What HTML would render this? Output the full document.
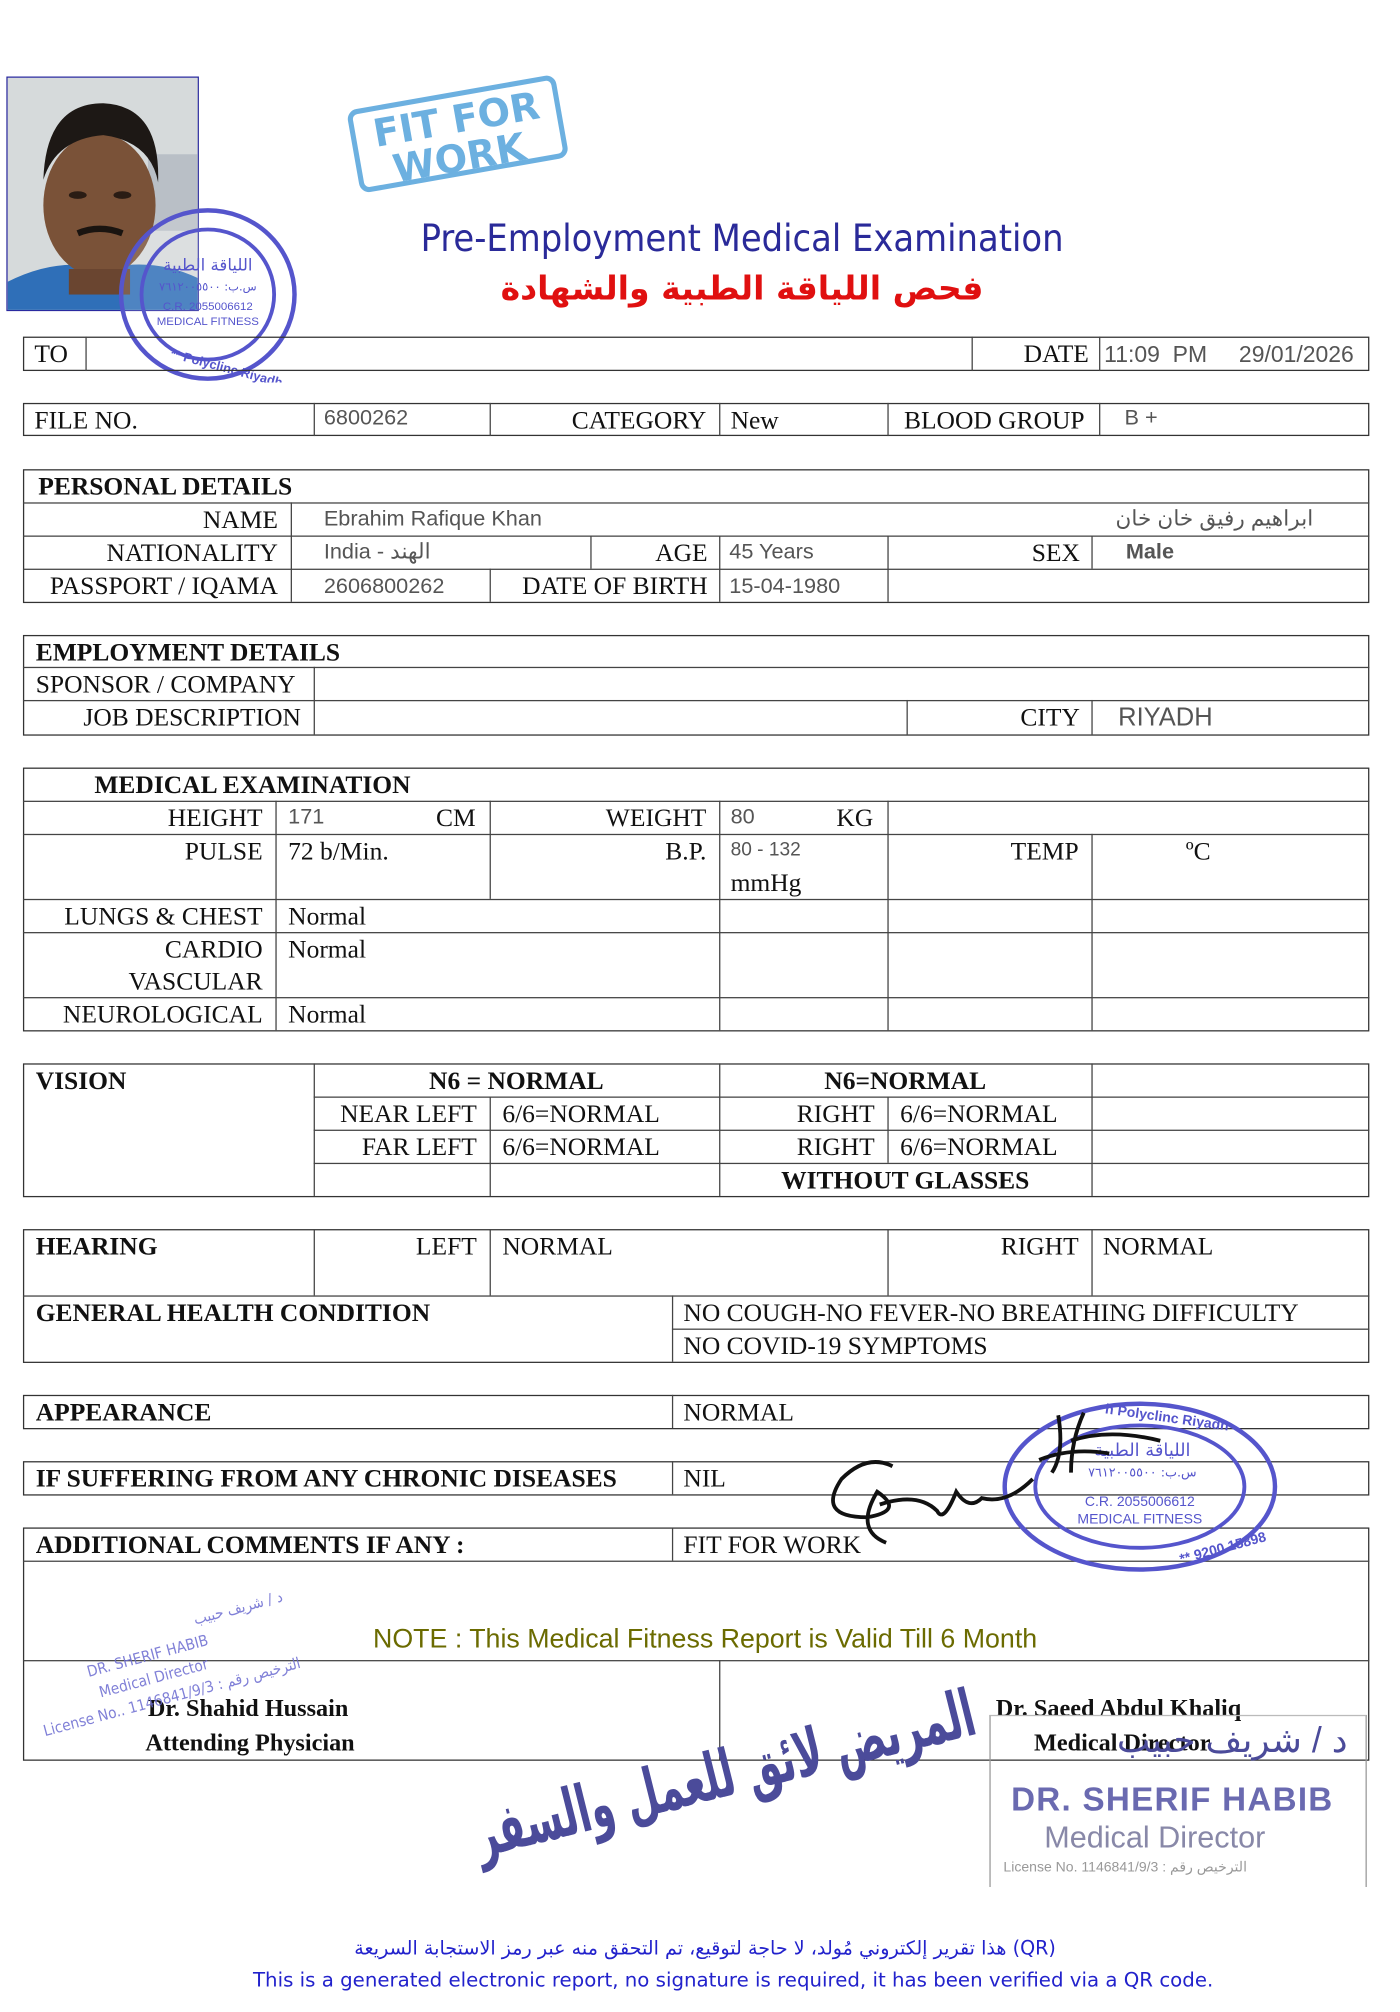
<!DOCTYPE html>
<html><head><meta charset="utf-8"><style>
html,body{margin:0;padding:0;background:#fff;}
body{width:1400px;height:2008px;overflow:hidden;position:relative;}
#w{position:absolute;left:0;top:0;width:1100px;height:1578px;transform:scale(1.275);transform-origin:0 0;}
.b{position:absolute;border:1.6px solid #333;box-sizing:border-box;}
.h{position:absolute;height:0;border-top:1.4px solid #444;}
.v{position:absolute;width:0;border-left:1.4px solid #444;}
.t{position:absolute;font-family:"Liberation Serif",serif;font-size:20px;line-height:26px;color:#111;white-space:nowrap;}
.r{text-align:right;}
.c{text-align:center;}
.g{font-family:"Liberation Sans","Noto Sans CJK SC",sans-serif;font-size:17px;color:#555;}
.bd{font-weight:bold;}
</style></head><body><div id="w">

<!-- photo -->
<div style="position:absolute;left:5px;top:60px;width:151px;height:184px;border:1.2px solid #2a2aa0;box-sizing:border-box;overflow:hidden;background:#d9dcdb;">
<svg width="151" height="184" viewBox="0 0 151 184">
<rect x="0" y="0" width="151" height="184" fill="#d6dadb"/>
<rect x="110" y="60" width="41" height="60" fill="#b9bfc6"/>
<path d="M0 160 Q40 140 75 150 Q115 140 151 158 L151 184 L0 184Z" fill="#2f6fb8"/>
<ellipse cx="72" cy="100" rx="44" ry="56" fill="#7a5238"/>
<path d="M28 80 Q30 20 75 20 Q120 22 118 82 Q112 50 75 45 Q38 48 28 80Z" fill="#1d1815"/>
<rect x="48" y="150" width="48" height="20" fill="#6a4530"/>
<path d="M55 122 Q72 115 90 122" stroke="#1a1410" stroke-width="5" fill="none"/>
<ellipse cx="55" cy="92" rx="7" ry="3" fill="#2a1c14"/><ellipse cx="90" cy="92" rx="7" ry="3" fill="#2a1c14"/>
</svg></div>

<!-- round stamp top-left -->
<svg style="position:absolute;left:92px;top:162px" width="142" height="138" viewBox="0 0 142 138">
<ellipse cx="71" cy="69" rx="68" ry="66" fill="rgba(255,255,255,0.15)" stroke="#5555cc" stroke-width="3.5"/>
<ellipse cx="71" cy="69" rx="52" ry="51" fill="none" stroke="#5555cc" stroke-width="3"/>
<text x="71" y="50" font-family="DejaVu Sans,sans-serif" font-size="13" fill="#5555cc" text-anchor="middle">اللياقة الطبية</text>
<text x="71" y="66" font-family="DejaVu Sans,sans-serif" font-size="9" fill="#5555cc" text-anchor="middle">س.ب: ٧٦١٢٠٠٥٥٠٠</text>
<text x="71" y="81" font-family="Liberation Sans,sans-serif" font-size="9" fill="#5555cc" text-anchor="middle">C.R. 2055006612</text>
<text x="71" y="93" font-family="Liberation Sans,sans-serif" font-size="9" fill="#5555cc" text-anchor="middle">MEDICAL FITNESS</text>
<text x="40" y="126" font-family="Liberation Sans,sans-serif" font-size="10" font-weight="bold" fill="#5555cc" transform="rotate(15 70 126)">** Polyclinc Riyadh</text>
</svg>

<!-- FIT FOR WORK stamp -->
<div style="position:absolute;left:276px;top:72px;width:166px;height:66px;border:4px solid #6cb0e0;border-radius:8px;transform:rotate(-10deg);color:#6cb0e0;font-family:'DejaVu Sans',sans-serif;font-weight:bold;font-size:30px;line-height:30px;padding:4px 0 0 14px;box-sizing:border-box;">FIT FOR<br>&nbsp;WORK</div>

<div class="t c" style="left:282px;width:600px;top:168px;font-family:'DejaVu Sans Condensed','DejaVu Sans',sans-serif;font-size:29.5px;line-height:38px;color:#2a2a99;">Pre-Employment Medical Examination</div>
<div class="t c" style="left:282px;width:600px;top:205px;font-family:'DejaVu Sans',sans-serif;font-size:26px;line-height:44px;color:#e01010;font-weight:bold;" dir="rtl">فحص اللياقة الطبية والشهادة</div>

<!-- T1 -->
<div class="b" style="left:18px;top:264px;width:1056px;height:27px"></div>
<div class="v" style="left:67px;top:264px;height:27px"></div>
<div class="v" style="left:762px;top:264px;height:27px"></div>
<div class="v" style="left:862px;top:264px;height:27px"></div>
<div class="t" style="left:27px;top:265px">TO</div>
<div class="t r" style="left:762px;width:92px;top:265px">DATE</div>
<div class="t g" style="left:866px;top:265px;font-size:18px">11:09&nbsp; PM&nbsp;&nbsp;&nbsp;&nbsp; 29/01/2026</div>

<!-- T2 -->
<div class="b" style="left:18px;top:316px;width:1056px;height:26px"></div>
<div class="v" style="left:246px;top:316px;height:26px"></div>
<div class="v" style="left:384px;top:316px;height:26px"></div>
<div class="v" style="left:564px;top:316px;height:26px"></div>
<div class="v" style="left:696px;top:316px;height:26px"></div>
<div class="v" style="left:862px;top:316px;height:26px"></div>
<div class="t" style="left:27px;top:317px">FILE NO.</div>
<div class="t g" style="left:254px;top:315px">6800262</div>
<div class="t r" style="left:384px;width:170px;top:317px">CATEGORY</div>
<div class="t" style="left:573px;top:317px">New</div>
<div class="t" style="left:709px;top:317px">BLOOD GROUP</div>
<div class="t g" style="left:882px;top:315px">B +</div>

<!-- T3 -->
<div class="b" style="left:18px;top:368px;width:1056px;height:105px"></div>
<div class="h" style="left:18px;top:394px;width:1056px"></div>
<div class="h" style="left:18px;top:420px;width:1056px"></div>
<div class="h" style="left:18px;top:446px;width:1056px"></div>
<div class="v" style="left:228px;top:394px;height:78px"></div>
<div class="v" style="left:463px;top:420px;height:26px"></div>
<div class="v" style="left:564px;top:420px;height:52px"></div>
<div class="v" style="left:696px;top:420px;height:52px"></div>
<div class="v" style="left:856px;top:420px;height:26px"></div>
<div class="v" style="left:384px;top:446px;height:26px"></div>
<div class="t bd" style="left:30px;top:369px">PERSONAL DETAILS</div>
<div class="t r" style="left:18px;width:200px;top:395px">NAME</div>
<div class="t g" style="left:254px;top:394px">Ebrahim Rafique Khan</div>
<div class="t g" style="left:880px;top:394px;width:150px;text-align:right" dir="rtl">ابراهيم رفيق خان خان</div>
<div class="t r" style="left:18px;width:200px;top:421px">NATIONALITY</div>
<div class="t g" style="left:254px;top:420px">India - الهند</div>
<div class="t r" style="left:463px;width:92px;top:421px">AGE</div>
<div class="t g" style="left:572px;top:420px">45 Years</div>
<div class="t r" style="left:696px;width:151px;top:421px">SEX</div>
<div class="t g bd" style="left:883px;top:420px">Male</div>
<div class="t r" style="left:18px;width:200px;top:447px">PASSPORT / IQAMA</div>
<div class="t g" style="left:254px;top:447px">2606800262</div>
<div class="t r" style="left:384px;width:171px;top:447px">DATE OF BIRTH</div>
<div class="t g" style="left:572px;top:447px">15-04-1980</div>

<!-- T4 -->
<div class="b" style="left:18px;top:498px;width:1056px;height:79px"></div>
<div class="h" style="left:18px;top:523px;width:1056px"></div>
<div class="h" style="left:18px;top:549px;width:1056px"></div>
<div class="v" style="left:246px;top:523px;height:53px"></div>
<div class="v" style="left:711px;top:549px;height:27px"></div>
<div class="v" style="left:856px;top:549px;height:27px"></div>
<div class="t bd" style="left:28px;top:499px">EMPLOYMENT DETAILS</div>
<div class="t" style="left:28px;top:524px">SPONSOR / COMPANY</div>
<div class="t r" style="left:18px;width:218px;top:550px">JOB DESCRIPTION</div>
<div class="t r" style="left:711px;width:136px;top:550px">CITY</div>
<div class="t g" style="left:877px;top:550px;font-size:20px">RIYADH</div>

<!-- T5 -->
<div class="b" style="left:18px;top:602px;width:1056px;height:207px"></div>
<div class="h" style="left:18px;top:628px;width:1056px"></div>
<div class="h" style="left:18px;top:654px;width:1056px"></div>
<div class="h" style="left:18px;top:705px;width:1056px"></div>
<div class="h" style="left:18px;top:731px;width:1056px"></div>
<div class="h" style="left:18px;top:782px;width:1056px"></div>
<div class="v" style="left:216px;top:628px;height:180px"></div>
<div class="v" style="left:384px;top:628px;height:77px"></div>
<div class="v" style="left:564px;top:628px;height:180px"></div>
<div class="v" style="left:696px;top:628px;height:180px"></div>
<div class="v" style="left:856px;top:654px;height:154px"></div>
<div class="t bd" style="left:74px;top:603px">MEDICAL EXAMINATION</div>
<div class="t r" style="left:18px;width:188px;top:629px">HEIGHT</div>
<div class="t g" style="left:226px;top:628px">171</div>
<div class="t" style="left:342px;top:629px">CM</div>
<div class="t r" style="left:384px;width:170px;top:629px">WEIGHT</div>
<div class="t g" style="left:573px;top:628px">80</div>
<div class="t" style="left:656px;top:629px">KG</div>
<div class="t r" style="left:18px;width:188px;top:655px">PULSE</div>
<div class="t" style="left:226px;top:655px">72 b/Min.</div>
<div class="t r" style="left:384px;width:170px;top:655px">B.P.</div>
<div class="t g" style="left:573px;top:654px;font-size:15px">80 - 132</div>
<div class="t" style="left:573px;top:680px">mmHg</div>
<div class="t r" style="left:696px;width:150px;top:655px">TEMP</div>
<div class="t" style="left:930px;top:655px">ºC</div>
<div class="t r" style="left:18px;width:188px;top:706px">LUNGS &amp; CHEST</div>
<div class="t" style="left:226px;top:706px">Normal</div>
<div class="t r" style="left:18px;width:188px;top:732px">CARDIO</div>
<div class="t r" style="left:18px;width:188px;top:757px">VASCULAR</div>
<div class="t" style="left:226px;top:732px">Normal</div>
<div class="t r" style="left:18px;width:188px;top:783px">NEUROLOGICAL</div>
<div class="t" style="left:226px;top:783px">Normal</div>

<!-- T6 -->
<div class="b" style="left:18px;top:834px;width:1056px;height:105px"></div>
<div class="h" style="left:246px;top:860px;width:828px"></div>
<div class="h" style="left:246px;top:886px;width:828px"></div>
<div class="h" style="left:246px;top:912px;width:828px"></div>
<div class="v" style="left:246px;top:834px;height:104px"></div>
<div class="v" style="left:384px;top:860px;height:78px"></div>
<div class="v" style="left:564px;top:834px;height:104px"></div>
<div class="v" style="left:696px;top:860px;height:52px"></div>
<div class="v" style="left:856px;top:834px;height:104px"></div>
<div class="t bd" style="left:28px;top:835px">VISION</div>
<div class="t c bd" style="left:246px;width:318px;top:835px">N6 = NORMAL</div>
<div class="t c bd" style="left:564px;width:292px;top:835px">N6=NORMAL</div>
<div class="t r" style="left:246px;width:128px;top:861px">NEAR LEFT</div>
<div class="t" style="left:394px;top:861px">6/6=NORMAL</div>
<div class="t r" style="left:564px;width:122px;top:861px">RIGHT</div>
<div class="t" style="left:706px;top:861px">6/6=NORMAL</div>
<div class="t r" style="left:246px;width:128px;top:887px">FAR LEFT</div>
<div class="t" style="left:394px;top:887px">6/6=NORMAL</div>
<div class="t r" style="left:564px;width:122px;top:887px">RIGHT</div>
<div class="t" style="left:706px;top:887px">6/6=NORMAL</div>
<div class="t c bd" style="left:564px;width:292px;top:913px">WITHOUT GLASSES</div>

<!-- T7 -->
<div class="b" style="left:18px;top:964px;width:1056px;height:105px"></div>
<div class="h" style="left:18px;top:1016px;width:1056px"></div>
<div class="h" style="left:527px;top:1042px;width:547px"></div>
<div class="v" style="left:246px;top:964px;height:52px"></div>
<div class="v" style="left:384px;top:964px;height:52px"></div>
<div class="v" style="left:696px;top:964px;height:52px"></div>
<div class="v" style="left:856px;top:964px;height:52px"></div>
<div class="v" style="left:527px;top:1016px;height:52px"></div>
<div class="t bd" style="left:28px;top:965px">HEARING</div>
<div class="t r" style="left:246px;width:128px;top:965px">LEFT</div>
<div class="t" style="left:394px;top:965px">NORMAL</div>
<div class="t r" style="left:696px;width:150px;top:965px">RIGHT</div>
<div class="t" style="left:865px;top:965px">NORMAL</div>
<div class="t bd" style="left:28px;top:1017px">GENERAL HEALTH CONDITION</div>
<div class="t" style="left:536px;top:1017px">NO COUGH-NO FEVER-NO BREATHING DIFFICULTY</div>
<div class="t" style="left:536px;top:1043px">NO COVID-19 SYMPTOMS</div>

<!-- T8 -->
<div class="b" style="left:18px;top:1094px;width:1056px;height:27px"></div>
<div class="v" style="left:527px;top:1094px;height:26px"></div>
<div class="t bd" style="left:28px;top:1095px">APPEARANCE</div>
<div class="t" style="left:536px;top:1095px">NORMAL</div>

<!-- T9 -->
<div class="b" style="left:18px;top:1146px;width:1056px;height:27px"></div>
<div class="v" style="left:527px;top:1146px;height:26px"></div>
<div class="t bd" style="left:28px;top:1147px">IF SUFFERING FROM ANY CHRONIC DISEASES</div>
<div class="t" style="left:536px;top:1147px">NIL</div>

<!-- T10 -->
<div class="b" style="left:18px;top:1198px;width:1056px;height:183px"></div>
<div class="h" style="left:18px;top:1224px;width:1056px"></div>
<div class="h" style="left:18px;top:1302px;width:1056px"></div>
<div class="v" style="left:527px;top:1198px;height:26px"></div>
<div class="v" style="left:564px;top:1302px;height:78px"></div>
<div class="t bd" style="left:28px;top:1199px">ADDITIONAL COMMENTS IF ANY :</div>
<div class="t" style="left:536px;top:1199px">FIT FOR WORK</div>
<div class="t c" style="left:253px;width:600px;top:1273px;font-family:'Liberation Sans',sans-serif;font-size:21px;color:#6b6b00;">NOTE : This Medical Fitness Report is Valid Till 6 Month</div>
<div class="t bd" style="left:116px;top:1328px;font-size:19px">Dr. Shahid Hussain</div>
<div class="t bd" style="left:114px;top:1355px;font-size:19px">Attending Physician</div>
<div class="t bd" style="left:781px;top:1328px;font-size:19px">Dr. Saeed Abdul Khaliq</div>
<div class="t bd" style="left:811px;top:1355px;font-size:19px">Medical Director</div>

<!-- left rotated stamp text -->
<div style="position:absolute;left:18px;top:1297px;transform:rotate(-15deg);transform-origin:0 0;font-family:'DejaVu Sans Condensed','DejaVu Sans',sans-serif;font-size:12px;line-height:18px;color:#6a6ad0;opacity:.85;">
<div style="padding-left:55px" dir="rtl">د / شريف حبيب</div>
<div style="padding-left:45px">DR. SHERIF HABIB</div>
<div style="padding-left:50px">Medical Director</div>
<div style="padding-left:0px">License No.. 1146841/9/3 : الترخيص رقم</div>
</div>

<!-- right round stamp -->
<svg style="position:absolute;left:786px;top:1098px" width="218" height="136" viewBox="0 0 218 136">
<ellipse cx="108" cy="68" rx="106" ry="65" fill="none" stroke="#5555cc" stroke-width="3.5"/>
<ellipse cx="108" cy="68" rx="82" ry="48" fill="none" stroke="#5555cc" stroke-width="3"/>
<text x="110" y="44" font-family="DejaVu Sans,sans-serif" font-size="14" fill="#5555cc" text-anchor="middle">اللياقة الطبية</text>
<text x="110" y="60" font-family="DejaVu Sans,sans-serif" font-size="10" fill="#5555cc" text-anchor="middle">س.ب: ٧٦١٢٠٠٥٥٠٠</text>
<text x="108" y="83" font-family="Liberation Sans,sans-serif" font-size="11" fill="#5555cc" text-anchor="middle">C.R. 2055006612</text>
<text x="108" y="97" font-family="Liberation Sans,sans-serif" font-size="11" fill="#5555cc" text-anchor="middle">MEDICAL FITNESS</text>
<text x="80" y="16" font-family="Liberation Sans,sans-serif" font-size="11" font-weight="bold" fill="#5555cc" transform="rotate(8 120 16)">h Polyclinc Riyadh</text>
<text x="140" y="126" font-family="Liberation Sans,sans-serif" font-size="11" font-weight="bold" fill="#5555cc" transform="rotate(-15 150 126)">** 9200 15898</text>
</svg>

<!-- signatures -->
<svg style="position:absolute;left:640px;top:1100px" width="300" height="120" viewBox="0 0 300 120">
<path d="M60 50 Q40 40 20 60 Q0 90 40 90 Q70 85 48 70 Q30 100 55 110 M50 80 Q80 70 95 85 Q100 95 110 70 Q120 85 130 75 Q150 80 170 60 M190 10 Q195 40 185 55 M210 8 Q200 30 200 55 M200 30 Q230 20 270 30 M175 45 Q200 35 230 40" stroke="#111" stroke-width="3" fill="none"/>
</svg>

<!-- big arabic cursive -->
<div style="position:absolute;left:370px;top:1368px;width:400px;text-align:center;font-family:'DejaVu Sans',sans-serif;font-size:30px;line-height:50px;color:#4b4b9a;font-weight:bold;transform:rotate(-14deg) scaleY(1.7);transform-origin:50% 50%;white-space:nowrap;" dir="rtl">المريض لائق للعمل والسفر</div>

<!-- director stamp box -->
<div style="position:absolute;left:776px;top:1345px;width:296px;height:135px;border-left:1.5px solid #999;border-right:1.5px solid #999;border-top:1.5px solid #bbb;box-sizing:border-box;color:#6a6aa8;font-family:'Liberation Sans',sans-serif;">
<div style="position:absolute;right:14px;top:2px;font-size:28px;color:#4b4b9a;" dir="rtl">د / شريف حبيب</div>
<div style="position:absolute;left:16px;top:50px;font-size:26px;color:#6a6ab0;font-weight:bold;letter-spacing:1px;">DR. SHERIF HABIB</div>
<div style="position:absolute;left:42px;top:82px;font-size:24px;color:#8888a8;">Medical Director</div>
<div style="position:absolute;left:10px;top:112px;font-size:11px;color:#999;">License No. 1146841/9/3 : الترخيص رقم</div>
</div>

<!-- footer -->
<div class="t c" style="left:0;width:1106px;top:1515px;font-family:'DejaVu Sans','Liberation Sans',sans-serif;font-size:15px;color:#2222cc;">هذا تقرير إلكتروني مُولد، لا حاجة لتوقيع، تم التحقق منه عبر رمز الاستجابة السريعة (QR)</div>
<div class="t c" style="left:0;width:1150px;top:1540px;font-family:'DejaVu Sans','Liberation Sans',sans-serif;font-size:15.5px;color:#2222cc;">This is a generated electronic report, no signature is required, it has been verified via a QR code.</div>

</div></body></html>
